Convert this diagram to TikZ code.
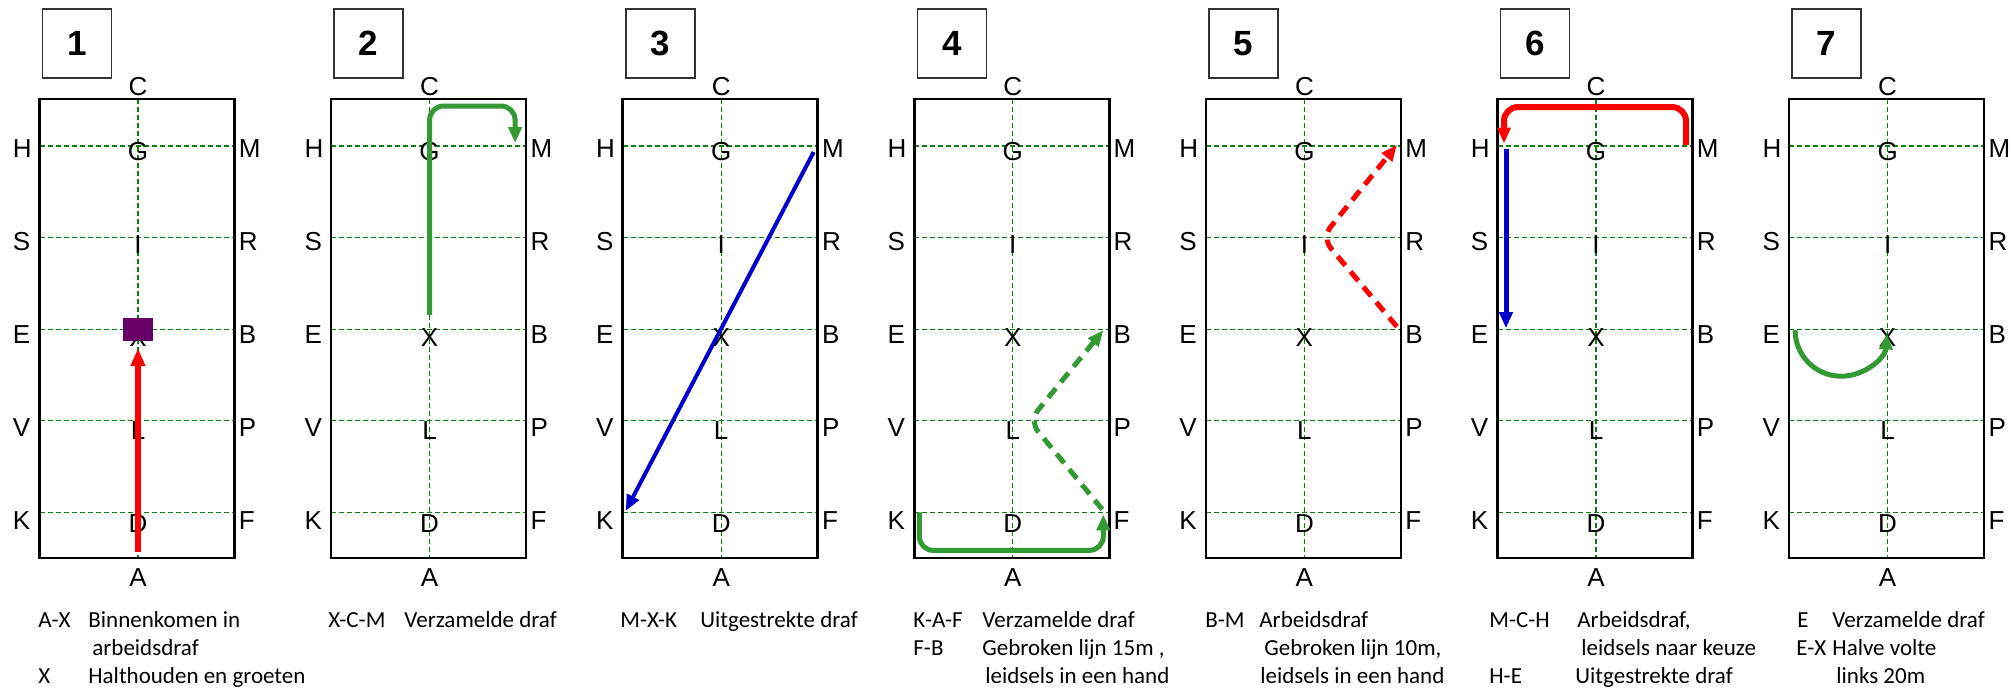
\documentclass[tikz,border=0pt]{standalone}
\usepackage{fontspec}
\setmainfont{Liberation Sans}
\newfontfamily\calibri{Carlito}
\usetikzlibrary{arrows.meta,calc}
\definecolor{vertgrille}{RGB}{10,130,10}
\definecolor{vertfleche}{RGB}{51,153,51}
\definecolor{rougefleche}{RGB}{255,0,0}
\definecolor{bleufleche}{RGB}{0,0,204}
\definecolor{violet}{RGB}{102,0,102}

\begin{document}
\begin{tikzpicture}[x=0.5pt,y=0.5pt]
\tikzset{
  quadrillage/.style={draw=vertgrille, line width=0.6pt, dash pattern=on 2.5pt off 1.5pt},
  lettre/.style={inner sep=0pt, font=\fontsize{13}{15}\selectfont},
  numero/.style={draw=black!80, line width=0.8pt, minimum size=34.5pt, inner sep=0pt,
    font=\bfseries\fontsize{17.5}{20}\selectfont},
  legende/.style={inner sep=0pt, anchor=base west, font=\calibri\fontsize{11.5}{14}\selectfont},
  trace/.style={line width=2.5pt, rounded corners=7pt, -{Triangle[length=8pt,width=6.5pt]}},
  pointille/.style={dash pattern=on 6pt off 4pt}
}
\useasboundingbox (0,0) rectangle (2013,-687);

 % les sept carrières
 \foreach \n in {1,...,7}{
  \begin{scope}[xshift={(\n-1)*145.8pt}]
   \node[numero] (num\n) at (77,-43.5) {\n};
   \coordinate (C\n) at (138,-99);
   \coordinate (A\n) at (138,-558);
   \draw[quadrillage] (C\n) -- (A\n);
   \foreach \g/\c/\d [count=\k from 0] in {H/G/M,S/I/R,E/X/B,V/L/P,K/D/F}{
     \coordinate (\g\n) at (39.5,{-146-91.6*\k});
     \coordinate (\c\n) at (138,{-146-91.6*\k});
     \coordinate (\d\n) at (234.5,{-146-91.6*\k});
     \draw[quadrillage] (\g\n) -- (\d\n);
     \node[lettre,anchor=base west] (t\g\n) at (12.5,{-157-93*\k}) {\g};
     \node[lettre,anchor=base] (t\c\n) at (138,{-160-93*\k}) {\c};
     \node[lettre,anchor=base west] (t\d\n) at (238.5,{-157-93*\k}) {\d};
   }
   \draw[line width=1.3pt] (39.5,-99) rectangle (234.5,-558);
   \node[lettre,anchor=base] (tC\n) at (138,-95) {C};
   \node[lettre,anchor=base] (tA\n) at (138,-586) {A};
  \end{scope}
 }

 % 1
 \draw[rougefleche, line width=3pt, -{Triangle[length=9pt,width=7pt]}] ($(A1)+(0,6)$) -- ($(X1)+(0,-19)$);
 \node[fill=violet, minimum width=15pt, minimum height=11.5pt, inner sep=0pt] (halte) at (X1) {};
 % 2
 \draw[trace, vertfleche] ($(X2)+(0,14)$) |- ($(M2)+(-11,40)$) -- ($(M2)+(-11,3)$);
 % 3
 \draw[trace, bleufleche, line width=2pt] ($(M3)+(-4,-6)$) -- ($(K3)+(3,1.5)$);
 % 4
 \draw[trace, vertfleche] ($(K4)+(5,0)$) |- ($(F4)+(-6,-38)$) -- ($(F4)+(-6,-2)$);
 \draw[trace, vertfleche, pointille] ($(F4)+(-7,3)$) -- ($(P4)+(-80,0)$) -- ($(B4)+(-6,-1)$);
 % 5
 \draw[trace, rougefleche, pointille] ($(B5)+(-4,2.5)$) -- ($(R5)+(-79,0)$) -- ($(M5)+(-4,1)$);
 % 6
 \draw[trace, rougefleche, line width=3pt] ($(M6)+(-6.5,1)$) |- ($(H6)+(6.5,39)$) -- ($(H6)+(6.5,2.5)$);
 \draw[trace, bleufleche] ($(H6)+(8.5,-2.5)$) -- ($(E6)+(8.5,1)$);
 % 7
 \draw[trace, vertfleche] ($(E7)+(6,-1)$) arc[start angle=180, end angle=356, radius=23pt];

 % du texte
 \foreach \x/\y/\t [count=\i] in {
   38/627/A-X, 88/627/Binnenkomen in, 92/655/arbeidsdraf, 38/683/X, 88/683/Halthouden en groeten,
   328/627/X-C-M, 404/627/Verzamelde draf,
   620/627/M-X-K, 700/627/Uitgestrekte draf,
   913/627/K-A-F, 982/627/Verzamelde draf, 913/655/F-B, 982/655/{Gebroken lijn 15m ,}, 985/683/leidsels in een hand,
   1205/627/B-M, 1259/627/Arbeidsdraf, 1264/655/{Gebroken lijn 10m,}, 1260/683/leidsels in een hand,
   1489/627/M-C-H, 1577/627/{Arbeidsdraf,}, 1581/655/leidsels naar keuze, 1489/683/H-E, 1575/683/Uitgestrekte draf,
   1797/627/E, 1832/627/Verzamelde draf, 1796/655/E-X, 1832/655/Halve volte, 1836/683/links 20m}
   \node[legende] (leg\i) at (\x,-\y) {\t};
\end{tikzpicture}
\end{document}
